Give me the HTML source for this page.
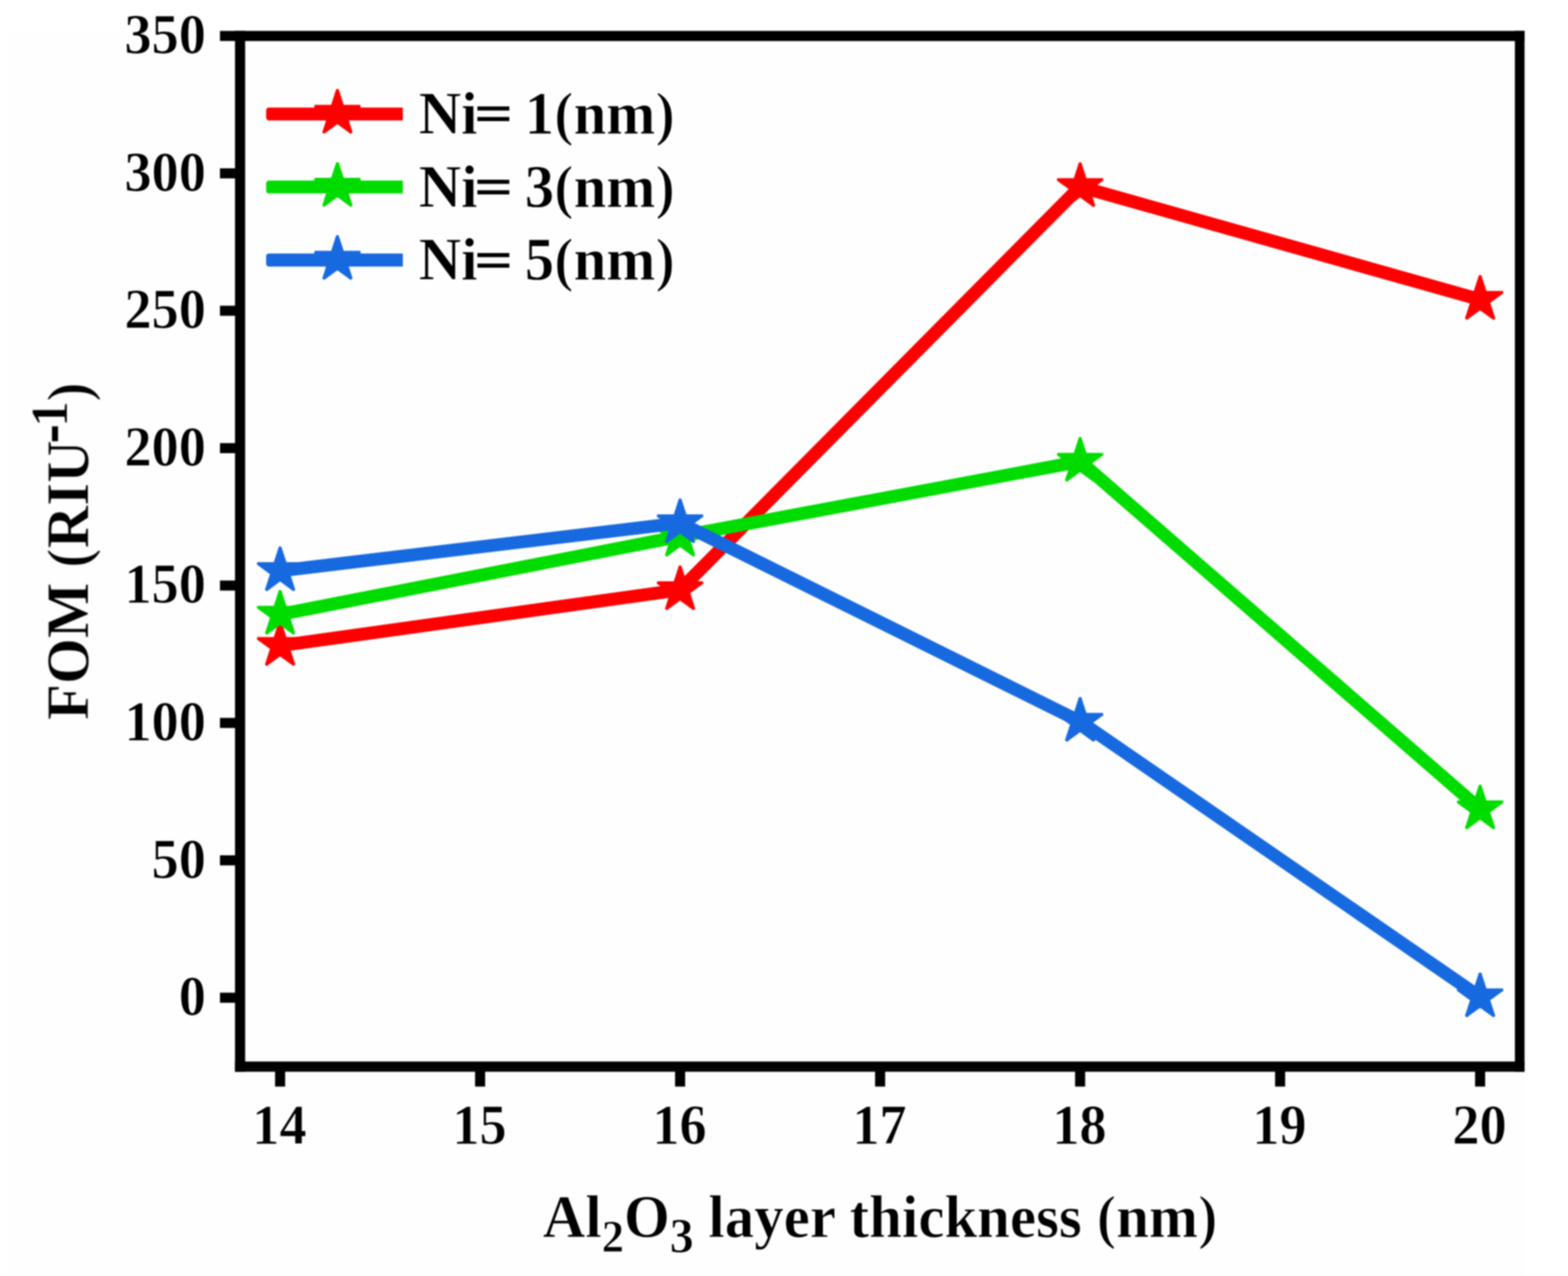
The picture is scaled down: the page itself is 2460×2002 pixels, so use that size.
<!DOCTYPE html>
<html lang="en"><head><meta charset="utf-8"><title>FOM vs Al2O3 layer thickness</title>
<style>
html,body{margin:0;padding:0;background:#ffffff;}
body{width:2460px;height:2002px;overflow:hidden;}
svg{display:block;}
text{font-family:"Liberation Serif","Times New Roman",Times,serif;font-weight:bold;fill:#000;stroke:#fefefe;stroke-width:0.9px;}
</style></head><body>
<svg width="2460" height="2002" viewBox="0 0 2460 2002" role="img" aria-label="FOM versus Al2O3 layer thickness for Ni = 1, 3 and 5 nm">
<rect x="0" y="0" width="2460" height="2002" fill="#ffffff"/>
<rect x="11" y="48" width="2381" height="1954" fill="#fefefe"/>
<defs><filter id="soft" x="0" y="0" width="100%" height="100%" filterUnits="userSpaceOnUse" color-interpolation-filters="sRGB"><feGaussianBlur stdDeviation="0.8"/></filter></defs>
<g id="fig" filter="url(#soft)">
<g id="series">
<polyline points="439.45,1013.00 1067.01,925.50 1694.57,293.00 2322.13,470.00" fill="none" stroke="#ff0000" stroke-width="20.3" stroke-linejoin="round" stroke-linecap="butt"/>
<path d="M439.45,975.40 L447.85,1001.38 L475.02,1001.38 L453.04,1017.44 L461.43,1043.42 L439.45,1027.36 L417.47,1043.42 L425.86,1017.44 L403.88,1001.38 L431.05,1001.38Z" fill="#ff0000" stroke="#ff0000" stroke-width="4.0" stroke-linejoin="bevel"/>
<path d="M1067.01,887.90 L1075.41,913.88 L1102.58,913.88 L1080.60,929.94 L1088.99,955.92 L1067.01,939.86 L1045.03,955.92 L1053.42,929.94 L1031.44,913.88 L1058.61,913.88Z" fill="#ff0000" stroke="#ff0000" stroke-width="4.0" stroke-linejoin="bevel"/>
<path d="M1694.57,255.40 L1702.97,281.38 L1730.14,281.38 L1708.16,297.44 L1716.55,323.42 L1694.57,307.36 L1672.59,323.42 L1680.98,297.44 L1659.00,281.38 L1686.17,281.38Z" fill="#ff0000" stroke="#ff0000" stroke-width="4.0" stroke-linejoin="bevel"/>
<path d="M2322.13,432.40 L2330.53,458.38 L2357.70,458.38 L2335.72,474.44 L2344.11,500.42 L2322.13,484.36 L2300.15,500.42 L2308.54,474.44 L2286.56,458.38 L2313.73,458.38Z" fill="#ff0000" stroke="#ff0000" stroke-width="4.0" stroke-linejoin="bevel"/>
<polyline points="439.45,964.00 1067.01,841.50 1694.57,724.00 2322.13,1269.40" fill="none" stroke="#00dc00" stroke-width="20.3" stroke-linejoin="round" stroke-linecap="butt"/>
<path d="M439.45,926.40 L447.85,952.38 L475.02,952.38 L453.04,968.44 L461.43,994.42 L439.45,978.36 L417.47,994.42 L425.86,968.44 L403.88,952.38 L431.05,952.38Z" fill="#00dc00" stroke="#00dc00" stroke-width="4.0" stroke-linejoin="bevel"/>
<path d="M1067.01,803.90 L1075.41,829.88 L1102.58,829.88 L1080.60,845.94 L1088.99,871.92 L1067.01,855.86 L1045.03,871.92 L1053.42,845.94 L1031.44,829.88 L1058.61,829.88Z" fill="#00dc00" stroke="#00dc00" stroke-width="4.0" stroke-linejoin="bevel"/>
<path d="M1694.57,686.40 L1702.97,712.38 L1730.14,712.38 L1708.16,728.44 L1716.55,754.42 L1694.57,738.36 L1672.59,754.42 L1680.98,728.44 L1659.00,712.38 L1686.17,712.38Z" fill="#00dc00" stroke="#00dc00" stroke-width="4.0" stroke-linejoin="bevel"/>
<path d="M2322.13,1231.80 L2330.53,1257.78 L2357.70,1257.78 L2335.72,1273.84 L2344.11,1299.82 L2322.13,1283.76 L2300.15,1299.82 L2308.54,1273.84 L2286.56,1257.78 L2313.73,1257.78Z" fill="#00dc00" stroke="#00dc00" stroke-width="4.0" stroke-linejoin="bevel"/>
<polyline points="439.45,895.60 1067.01,820.50 1694.57,1132.00 2322.13,1564.30" fill="none" stroke="#1769e0" stroke-width="20.3" stroke-linejoin="round" stroke-linecap="butt"/>
<path d="M439.45,858.00 L447.85,883.98 L475.02,883.98 L453.04,900.04 L461.43,926.02 L439.45,909.96 L417.47,926.02 L425.86,900.04 L403.88,883.98 L431.05,883.98Z" fill="#1769e0" stroke="#1769e0" stroke-width="4.0" stroke-linejoin="bevel"/>
<path d="M1067.01,782.90 L1075.41,808.88 L1102.58,808.88 L1080.60,824.94 L1088.99,850.92 L1067.01,834.86 L1045.03,850.92 L1053.42,824.94 L1031.44,808.88 L1058.61,808.88Z" fill="#1769e0" stroke="#1769e0" stroke-width="4.0" stroke-linejoin="bevel"/>
<path d="M1694.57,1094.40 L1702.97,1120.38 L1730.14,1120.38 L1708.16,1136.44 L1716.55,1162.42 L1694.57,1146.36 L1672.59,1162.42 L1680.98,1136.44 L1659.00,1120.38 L1686.17,1120.38Z" fill="#1769e0" stroke="#1769e0" stroke-width="4.0" stroke-linejoin="bevel"/>
<path d="M2322.13,1526.70 L2330.53,1552.68 L2357.70,1552.68 L2335.72,1568.74 L2344.11,1594.72 L2322.13,1578.66 L2300.15,1594.72 L2308.54,1568.74 L2286.56,1552.68 L2313.73,1552.68Z" fill="#1769e0" stroke="#1769e0" stroke-width="4.0" stroke-linejoin="bevel"/>
</g>
<g id="axes" fill="#000">
<rect x="368.7" y="48.5" width="15.90" height="1633.00"/>
<rect x="2376.7" y="48.5" width="15.10" height="1633.00"/>
<rect x="368.7" y="48.5" width="2023.10" height="15.90"/>
<rect x="368.7" y="1665.5" width="2023.10" height="16.00"/>
<rect x="345.1" y="1557.50" width="24.60" height="15.8"/>
<rect x="345.1" y="1341.93" width="24.60" height="15.8"/>
<rect x="345.1" y="1126.36" width="24.60" height="15.8"/>
<rect x="345.1" y="910.79" width="24.60" height="15.8"/>
<rect x="345.1" y="695.22" width="24.60" height="15.8"/>
<rect x="345.1" y="479.65" width="24.60" height="15.8"/>
<rect x="345.1" y="264.08" width="24.60" height="15.8"/>
<rect x="345.1" y="48.51" width="24.60" height="15.8"/>
<rect x="431.55" y="1680.5" width="15.8" height="24.30"/>
<rect x="745.33" y="1680.5" width="15.8" height="24.30"/>
<rect x="1059.11" y="1680.5" width="15.8" height="24.30"/>
<rect x="1372.89" y="1680.5" width="15.8" height="24.30"/>
<rect x="1686.67" y="1680.5" width="15.8" height="24.30"/>
<rect x="2000.45" y="1680.5" width="15.8" height="24.30"/>
<rect x="2314.23" y="1680.5" width="15.8" height="24.30"/>
</g>
<g id="ticklabels">
<text transform="translate(323.00,1592.20) scale(1,1.05)" font-size="85.2" text-anchor="end">0</text>
<text transform="translate(323.00,1376.63) scale(1,1.05)" font-size="85.2" text-anchor="end">50</text>
<text transform="translate(323.00,1161.06) scale(1,1.05)" font-size="85.2" text-anchor="end">100</text>
<text transform="translate(323.00,945.49) scale(1,1.05)" font-size="85.2" text-anchor="end">150</text>
<text transform="translate(323.00,729.92) scale(1,1.05)" font-size="85.2" text-anchor="end">200</text>
<text transform="translate(323.00,514.35) scale(1,1.05)" font-size="85.2" text-anchor="end">250</text>
<text transform="translate(323.00,298.78) scale(1,1.05)" font-size="85.2" text-anchor="end">300</text>
<text transform="translate(323.00,83.21) scale(1,1.05)" font-size="85.2" text-anchor="end">350</text>
<text transform="translate(438.45,1794.00) scale(1,1.05)" font-size="85.2" text-anchor="middle">14</text>
<text transform="translate(752.23,1794.00) scale(1,1.05)" font-size="85.2" text-anchor="middle">15</text>
<text transform="translate(1066.01,1794.00) scale(1,1.05)" font-size="85.2" text-anchor="middle">16</text>
<text transform="translate(1379.79,1794.00) scale(1,1.05)" font-size="85.2" text-anchor="middle">17</text>
<text transform="translate(1693.57,1794.00) scale(1,1.05)" font-size="85.2" text-anchor="middle">18</text>
<text transform="translate(2007.35,1794.00) scale(1,1.05)" font-size="85.2" text-anchor="middle">19</text>
<text transform="translate(2321.13,1794.00) scale(1,1.05)" font-size="85.2" text-anchor="middle">20</text>
</g>
<text transform="translate(851.50,1941.30) scale(1,1.03)" font-size="92.4">Al<tspan font-size="70" dy="22.0">2</tspan><tspan dy="-22.0">O</tspan><tspan font-size="75" dy="22.8">3</tspan><tspan dy="-22.8"> layer thickness </tspan><tspan stroke-width="2">(</tspan>nm<tspan stroke-width="2">)</tspan></text>
<text transform="translate(139.00,1129.60) rotate(-90) scale(1,1.03)" font-size="92.4">FOM <tspan stroke-width="2">(</tspan>RIU<tspan font-size="81" dx="-3.2" dy="-32.5" stroke="#000" stroke-width="2.4">-</tspan><tspan font-size="81" dx="-2.9" dy="-0.9">1</tspan><tspan dy="33.4" dx="-0.9" stroke-width="2">)</tspan></text>
<g id="legend">
<path d="M422.5,168.65 H632.0 V188.95 H422.5 Q417.5,188.95 417.5,183.95 V173.65 Q417.5,168.65 422.5,168.65Z" fill="#ff0000"/>
<path d="M529.40,140.40 L537.80,166.38 L564.97,166.38 L542.99,182.44 L551.38,208.42 L529.40,192.36 L507.42,208.42 L515.81,182.44 L493.83,166.38 L521.00,166.38Z" fill="#ff0000" stroke="#ff0000" stroke-width="4.0" stroke-linejoin="bevel"/>
<text transform="translate(657.00,210.20) scale(1,1.03)" font-size="92.2">Ni<tspan font-family="'DejaVu Serif',serif" font-weight="normal" font-size="80" dx="-8.6" dy="-5.6" stroke="none">=</tspan><tspan dx="-7.4" dy="5.6"> 1</tspan><tspan stroke-width="2">(</tspan>nm<tspan stroke-width="2">)</tspan></text>
<path d="M422.5,283.25 H632.0 V303.55 H422.5 Q417.5,303.55 417.5,298.55 V288.25 Q417.5,283.25 422.5,283.25Z" fill="#00dc00"/>
<path d="M529.40,255.00 L537.80,280.98 L564.97,280.98 L542.99,297.04 L551.38,323.02 L529.40,306.96 L507.42,323.02 L515.81,297.04 L493.83,280.98 L521.00,280.98Z" fill="#00dc00" stroke="#00dc00" stroke-width="4.0" stroke-linejoin="bevel"/>
<text transform="translate(657.00,324.80) scale(1,1.03)" font-size="92.2">Ni<tspan font-family="'DejaVu Serif',serif" font-weight="normal" font-size="80" dx="-8.6" dy="-5.6" stroke="none">=</tspan><tspan dx="-7.4" dy="5.6"> 3</tspan><tspan stroke-width="2">(</tspan>nm<tspan stroke-width="2">)</tspan></text>
<path d="M422.5,397.85 H632.0 V418.15 H422.5 Q417.5,418.15 417.5,413.15 V402.85 Q417.5,397.85 422.5,397.85Z" fill="#1769e0"/>
<path d="M529.40,369.60 L537.80,395.58 L564.97,395.58 L542.99,411.64 L551.38,437.62 L529.40,421.56 L507.42,437.62 L515.81,411.64 L493.83,395.58 L521.00,395.58Z" fill="#1769e0" stroke="#1769e0" stroke-width="4.0" stroke-linejoin="bevel"/>
<text transform="translate(657.00,439.40) scale(1,1.03)" font-size="92.2">Ni<tspan font-family="'DejaVu Serif',serif" font-weight="normal" font-size="80" dx="-8.6" dy="-5.6" stroke="none">=</tspan><tspan dx="-7.4" dy="5.6"> 5</tspan><tspan stroke-width="2">(</tspan>nm<tspan stroke-width="2">)</tspan></text>
</g>
</g>
</svg>
</body></html>
